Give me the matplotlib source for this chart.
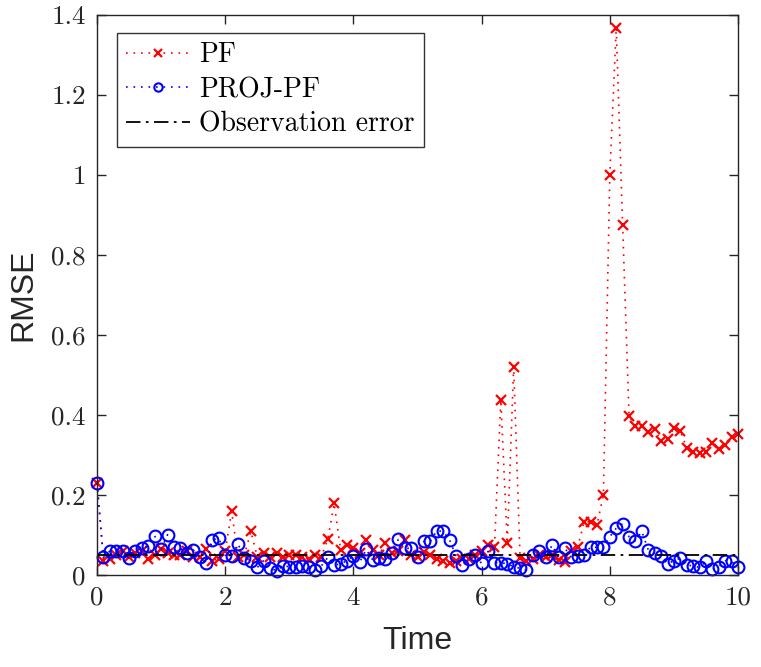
import numpy as np
import matplotlib
matplotlib.use('Agg')
from matplotlib import pyplot as plt
from matplotlib.ticker import FuncFormatter

# time axis, one sample every 0.1
time = [round(0.1 * i, 1) for i in range(101)]

# RMSE of the plain particle filter
pf_rmse = [
    0.230, 0.035, 0.040, 0.050, 0.058, 0.045, 0.055, 0.060, 0.040, 0.050,
    0.063, 0.055, 0.050, 0.050, 0.060, 0.045, 0.045, 0.065, 0.035, 0.040,
    0.060, 0.158, 0.045, 0.050, 0.108, 0.045, 0.055, 0.045, 0.053, 0.045,
    0.050, 0.048, 0.045, 0.040, 0.050, 0.045, 0.089, 0.178, 0.062, 0.074,
    0.066, 0.055, 0.087, 0.062, 0.050, 0.078, 0.055, 0.060, 0.087, 0.050,
    0.043, 0.057, 0.050, 0.040, 0.033, 0.030, 0.035, 0.040, 0.040, 0.050,
    0.060, 0.075, 0.070, 0.437, 0.078, 0.520, 0.041, 0.035, 0.040, 0.050,
    0.045, 0.050, 0.037, 0.032, 0.060, 0.070, 0.132, 0.132, 0.124, 0.200,
    1.000, 1.367, 0.873, 0.397, 0.372, 0.372, 0.356, 0.364, 0.334, 0.338,
    0.367, 0.360, 0.316, 0.306, 0.305, 0.306, 0.330, 0.313, 0.325, 0.345,
    0.352,
]

# RMSE of the projected particle filter
proj_rmse = [
    0.230, 0.043, 0.059, 0.058, 0.060, 0.041, 0.060, 0.066, 0.072, 0.097,
    0.063, 0.100, 0.068, 0.066, 0.053, 0.062, 0.045, 0.028, 0.087, 0.091,
    0.049, 0.047, 0.077, 0.041, 0.035, 0.018, 0.035, 0.016, 0.010, 0.022,
    0.020, 0.018, 0.022, 0.020, 0.012, 0.022, 0.043, 0.024, 0.027, 0.035,
    0.047, 0.032, 0.063, 0.037, 0.041, 0.038, 0.053, 0.088, 0.066, 0.066,
    0.045, 0.083, 0.083, 0.110, 0.108, 0.087, 0.047, 0.024, 0.038, 0.049,
    0.028, 0.058, 0.030, 0.030, 0.027, 0.020, 0.016, 0.012, 0.049, 0.058,
    0.043, 0.074, 0.043, 0.066, 0.043, 0.047, 0.049, 0.070, 0.068, 0.068,
    0.095, 0.116, 0.127, 0.095, 0.085, 0.108, 0.062, 0.053, 0.047, 0.027,
    0.035, 0.041, 0.024, 0.022, 0.018, 0.033, 0.013, 0.020, 0.035, 0.033,
    0.018,
]

obs_error = 0.05

x_ticks = [0, 2, 4, 6, 8, 10]
y_ticks = [0, 0.2, 0.4, 0.6, 0.8, 1.0, 1.2, 1.4]

axis_col = '#262626'
tick_font = 'cmr10'
label_font = ['Liberation Sans', 'DejaVu Sans']

fig = plt.figure(figsize=(7.61, 6.67), dpi=100)
ax = fig.add_axes([0.1275, 0.1384, 0.8423, 0.8396])

dots = (0, (1, 3.5))
ax.plot(time, pf_rmse, color='r', linestyle=dots, lw=1.2,
        marker='x', ms=6.5, mew=1.6, label='PF', clip_on=False)
ax.plot(time, proj_rmse, color='b', linestyle=dots, lw=1.2,
        marker='o', ms=8.5, mew=1.5, mfc='none', label='PROJ-PF', clip_on=False)
ax.plot([time[0], time[-1]], [obs_error, obs_error], color='k',
        linestyle=(0, (8, 3, 1.5, 3)), lw=1.3, label='Observation error')

ax.set_xlim(0, 10)
ax.set_ylim(0, 1.4)
ax.set_xticks(x_ticks)
ax.set_yticks(y_ticks)
ax.yaxis.set_major_formatter(FuncFormatter(lambda v, p: '%g' % round(v, 2)))

ax.tick_params(direction='in', length=6.5, width=1.0, color=axis_col,
               top=True, right=True, labelsize=19.5, labelcolor=axis_col)
ax.tick_params(axis='y', pad=8)
ax.tick_params(axis='x', pad=8)
for lab in ax.get_xticklabels() + ax.get_yticklabels():
    lab.set_family(tick_font)
for sp in ax.spines.values():
    sp.set_color(axis_col)
    sp.set_linewidth(1.0)

ax.set_xlabel('Time', fontsize=23, family=label_font, color=axis_col, labelpad=12)
ax.set_ylabel('RMSE', fontsize=23, family=label_font, color=axis_col, labelpad=9)

leg = ax.legend(loc='upper left', bbox_to_anchor=(0.031, 0.967), borderaxespad=0,
                prop={'family': tick_font, 'size': 20}, frameon=True, fancybox=False,
                edgecolor='k', handlelength=2.3, handletextpad=0.35, numpoints=1,
                labelspacing=0.3, borderpad=0.32)
leg.get_frame().set_linewidth(1.0)
for h in leg.legend_handles:
    h.set_markersize(6)

plt.savefig('out.png', dpi=100)
